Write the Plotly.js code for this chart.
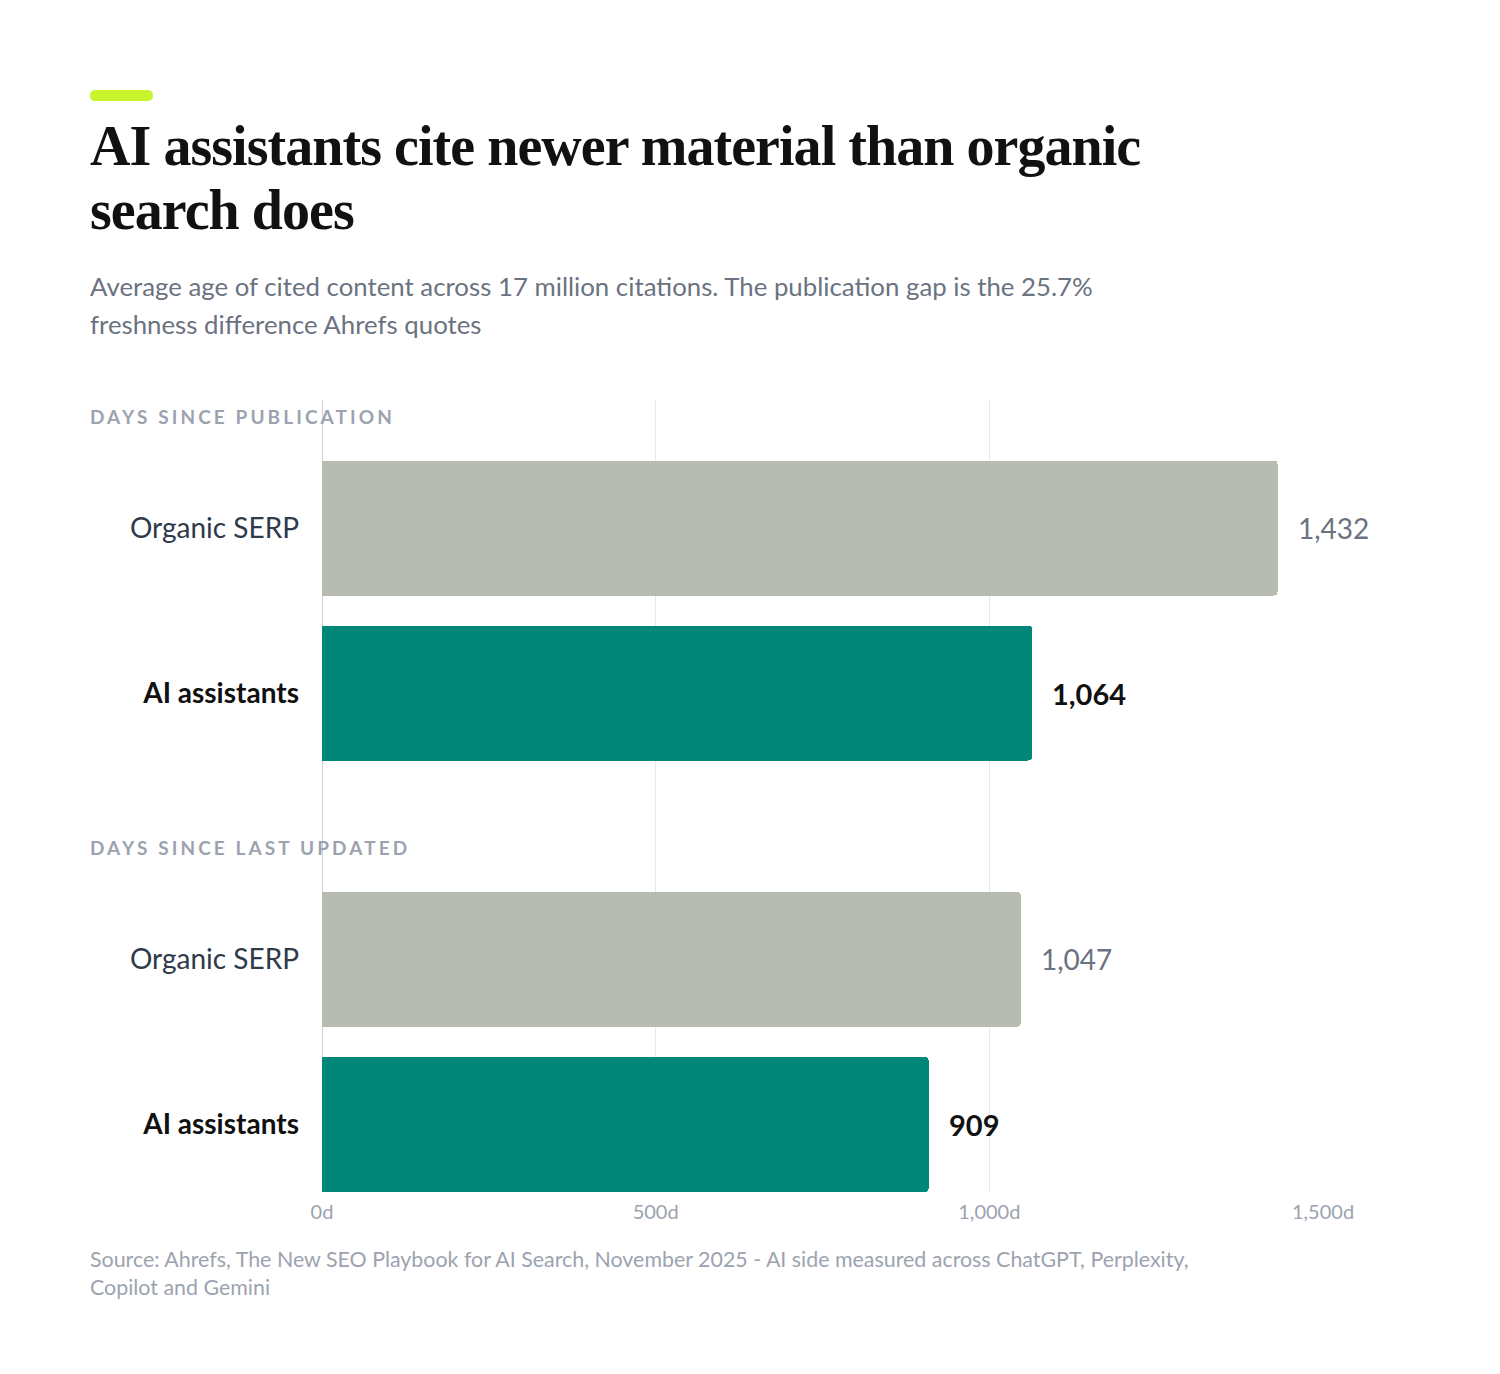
<!DOCTYPE html>
<html>
<head>
<meta charset="utf-8">
<script src="https://cdn.plot.ly/plotly-3.0.1.min.js"></script>
<style>
  html, body { margin: 0; padding: 0; background: #ffffff; }
  #chart { width: 1500px; height: 1374px; }
</style>
</head>
<body>
<div id="chart"></div>
<script>
  /* Citation freshness — horizontal bars, two stacked panels */

  // data
  const categories = ['Organic SERP', 'AI assistants'];
  const pubDays = [1432, 1064];
  const updDays = [1047, 909];
  const groupTitles = ['DAYS SINCE PUBLICATION', 'DAYS SINCE LAST UPDATED'];
  const tickVals = [0, 500, 1000, 1500];
  const titleLines = ['AI assistants cite newer material than organic', 'search does'];
  const subtitleLines = [
    'Average age of cited content across 17 million citations. The publication gap is the 25.7%',
    'freshness difference Ahrefs quotes',
  ];
  const sourceLines = [
    'Source: Ahrefs, The New SEO Playbook for AI Search, November 2025 - AI side measured across ChatGPT, Perplexity,',
    'Copilot and Gemini',
  ];

  // styling
  const GRAY_BAR = '#b7bcb2';
  const TEAL_BAR = '#00877a';
  const barColors = [GRAY_BAR, TEAL_BAR];
  const FONT = 'Lato, "Noto Sans", sans-serif';
  const SERIF = '"Liberation Serif", "DejaVu Serif", serif';

  const W = 1500, H = 1374;
  const M = { l: 322, r: 177, t: 400, b: 182 };
  const px = (x) => (x - M.l) / (W - M.l - M.r);
  const py = (y) => (H - M.b - y) / (H - M.t - M.b);

  function note(text, x, y, font, extra) {
    return Object.assign({
      text, xref: 'paper', yref: 'paper', x: px(x), y: py(y),
      xanchor: 'left', yanchor: 'middle', align: 'left', showarrow: false, font,
    }, extra || {});
  }

  // value labels at bar ends
  function valueNotes(vals, yref) {
    return vals.map((v, i) => ({
      text: v.toLocaleString('en-US'),
      xref: 'x', yref, x: v, y: categories[i],
      xanchor: 'left', yanchor: 'middle', xshift: 18, showarrow: false,
      font: i === 1
        ? { family: FONT, size: 29, color: '#111111', weight: 700 }
        : { family: FONT, size: 28, color: '#6b7280' },
    }));
  }

  const catLabels = [
    '<span style="color:#2f3a4a">' + categories[0] + '</span>',
    '<b><span style="color:#111111">' + categories[1] + '</span></b>',
  ];

  function yAxis(domain, range) {
    return {
      domain, range, anchor: 'x', type: 'category',
      tickmode: 'array', tickvals: categories, ticktext: catLabels,
      showgrid: false, zeroline: false, showline: false, ticks: '',
      ticklabelstandoff: 22,
      tickfont: { family: FONT, size: 28, color: '#2f3a4a' },
      fixedrange: true,
    };
  }

  function barTrace(vals, yaxis) {
    return {
      type: 'bar', orientation: 'h',
      x: vals, y: categories, xaxis: 'x', yaxis,
      width: 0.818,
      marker: { color: barColors, cornerradius: 4, line: { width: 0 } },
      hoverinfo: 'skip',
    };
  }

  // rounded accent pill above the title
  function pillPath(x0, y0, x1, y1, r) {
    const X = px, Y = py;
    return 'M' + X(x0 + r) + ',' + Y(y0) +
      ' L' + X(x1 - r) + ',' + Y(y0) +
      ' Q' + X(x1) + ',' + Y(y0) + ' ' + X(x1) + ',' + Y(y0 + r) +
      ' Q' + X(x1) + ',' + Y(y1) + ' ' + X(x1 - r) + ',' + Y(y1) +
      ' L' + X(x0 + r) + ',' + Y(y1) +
      ' Q' + X(x0) + ',' + Y(y1) + ' ' + X(x0) + ',' + Y(y1 - r) +
      ' Q' + X(x0) + ',' + Y(y0) + ' ' + X(x0 + r) + ',' + Y(y0) + ' Z';
  }

  const annotations = [
    note(titleLines[0], 88, 146, { family: SERIF, size: 56, color: '#111111', weight: 700 }),
    note(titleLines[1], 88, 210, { family: SERIF, size: 56, color: '#111111', weight: 700 }),
    note(subtitleLines[0], 88, 286, { family: FONT, size: 25.8, color: '#6b7280' }),
    note(subtitleLines[1], 88, 324, { family: FONT, size: 25.8, color: '#6b7280' }),
    note(groupTitles[0], 88, 416, { family: FONT, size: 19, color: '#9ca3af', weight: 700 }),
    note(groupTitles[1], 88, 847, { family: FONT, size: 19, color: '#9ca3af', weight: 700 }),
    note(sourceLines[0], 88, 1259, { family: FONT, size: 21.4, color: '#9ca3af' }),
    note(sourceLines[1], 88, 1287, { family: FONT, size: 21.4, color: '#9ca3af' }),
  ].concat(valueNotes(pubDays, 'y'), valueNotes(updDays, 'y2'));

  const layout = {
    width: W, height: H,
    margin: M,
    paper_bgcolor: '#ffffff',
    plot_bgcolor: '#ffffff',
    showlegend: false,
    bargap: 0,
    font: { family: FONT, color: '#374151' },
    xaxis: {
      domain: [0, 1], anchor: 'y2', range: [0, 1500],
      tickmode: 'array', tickvals: tickVals,
      ticktext: tickVals.map((v) => v.toLocaleString('en-US') + 'd'),
      showgrid: true, gridcolor: '#e7e7e7', gridwidth: 1,
      zeroline: true, zerolinecolor: '#cfd3d8', zerolinewidth: 1,
      showline: false, ticks: '', ticklabelstandoff: 6,
      tickfont: { family: FONT, size: 20, color: '#9ca3af' },
      fixedrange: true,
    },
    yaxis: yAxis([0.5, 1], [1.624, -0.776]),
    yaxis2: yAxis([0, 0.5], [1.409, -0.988]),
    annotations,
    shapes: [{
      type: 'path', xref: 'paper', yref: 'paper',
      path: pillPath(90, 90, 153, 101, 5.5),
      fillcolor: '#c9f52e', line: { width: 0 },
    }],
  };

  Plotly.newPlot('chart', [barTrace(pubDays, 'y'), barTrace(updDays, 'y2')], layout,
    { displayModeBar: false, staticPlot: true }).then((gd) => {
    // letter spacing is not a Plotly font option, so set it on the drawn text
    const spacing = { 0: '-0.95px', 1: '-0.95px', 4: '3.1px', 5: '3.1px' };
    Object.keys(spacing).forEach((i) => {
      const t = gd.querySelector('.annotation[data-index="' + i + '"] text');
      if (t) t.style.letterSpacing = spacing[i];
    });
  });
</script>
</body>
</html>
